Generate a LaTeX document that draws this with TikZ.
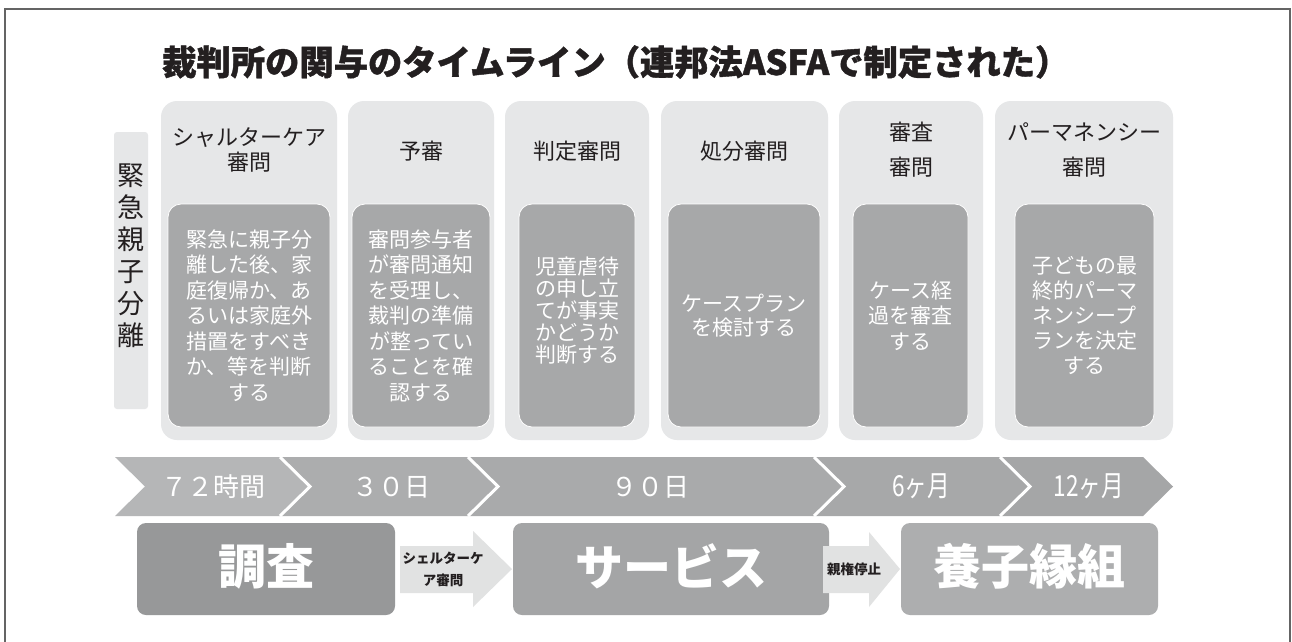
\documentclass[tikz,border=0pt]{standalone}
\usepackage{fontspec}
\setmainfont{Noto Sans CJK JP}
\usepackage{graphicx}
\usetikzlibrary{calc}
\definecolor{lightbox}{RGB}{230,231,232}
\definecolor{innerbox}{RGB}{167,168,169}
\definecolor{txtdark}{RGB}{35,31,32}
\definecolor{chevA}{RGB}{181,182,183}
\definecolor{chevB}{RGB}{172,173,174}
\definecolor{chevC}{RGB}{169,170,171}
\definecolor{chevD}{RGB}{167,168,169}
\definecolor{chevE}{RGB}{165,166,167}
\definecolor{invcol}{RGB}{151,152,153}
\definecolor{svccol}{RGB}{164,165,166}
\definecolor{adpcol}{RGB}{173,174,175}
\definecolor{arrowfill}{RGB}{225,226,226}
\definecolor{framecol}{RGB}{100,100,100}
\begin{document}
\begin{tikzpicture}[x=1pt,y=-1pt,
  outerbox/.style={fill=lightbox, rounded corners=16pt, inner sep=0pt, outer sep=0pt, minimum height=339pt},
  innerb/.style={fill=innerbox, draw=white, line width=0.8pt, rounded corners=13pt, inner sep=0pt, outer sep=0pt, minimum height=223pt},
  hdr/.style={text=txtdark, font=\fontsize{22}{25}\selectfont, align=center, inner sep=0pt},
  hdrwide/.style={text=txtdark, font=\fontsize{22}{35}\selectfont, align=center, inner sep=0pt},
  bodytxt/.style={text=white, font=\fontsize{21}{25.5}\selectfont, align=center, inner sep=0pt},
  chevtxt/.style={text=white, font=\fontsize{26}{30}\selectfont, inner sep=0pt},
  chevnarrow/.style={text=white, font=\fontsize{29}{30}\selectfont, inner sep=0pt},
  bigbox/.style={rounded corners=9pt, minimum height=92pt, inner sep=0pt, outer sep=0pt},
  bigtxt/.style={text=white, font=\bfseries\fontsize{48}{50}\selectfont, inner sep=0pt},
  blockarrow/.style={fill=arrowfill},
  arrtxt/.style={text=txtdark, font=\bfseries\fontsize{13.5}{22}\selectfont, align=center, inner sep=0pt}
]
\useasboundingbox (0,0) rectangle (1292,641);
\fill[white] (0,0) rectangle (1292,641);
\draw[framecol, line width=1.5pt] (5,645) -- (5,9) -- (1290,9) -- (1290,645);

% title
\node[anchor=west, text=txtdark, font=\bfseries\fontsize{34.3}{36}\selectfont\addfontfeature{FakeBold=1.2}, inner sep=0pt] (title) at (162,62) {裁判所の関与のタイムライン（連邦法ASFAで制定された）};

% vertical label
\node[fill=lightbox, rounded corners=3pt, minimum width=34pt, minimum height=277pt, inner sep=0pt] (vbox) at (131,270.5) {};
\node[text=txtdark, font=\fontsize{27}{32}\selectfont, align=center, inner sep=0pt] (vlabel) at (131,256) {緊\\急\\親\\子\\分\\離};

% top outer boxes
\node[outerbox, minimum width=176pt] (o1) at (249,270.5) {};
\node[outerbox, minimum width=146pt] (o2) at (421,270.5) {};
\node[outerbox, minimum width=144pt] (o3) at (577,270.5) {};
\node[outerbox, minimum width=167pt] (o4) at (744.5,270.5) {};
\node[outerbox, minimum width=144pt] (o5) at (911,270.5) {};
\node[outerbox, minimum width=178pt] (o6) at (1084,270.5) {};

% headers
\node[hdr] (h1) at (249,150) {シャルターケア\\審問};
\node[hdr] (h2) at (421,151) {予審};
\node[hdr] (h3) at (577,151) {判定審問};
\node[hdr] (h4) at (744,151) {処分審問};
\node[hdrwide] (h5) at (911,150) {審査\\審問};
\node[hdrwide] (h6) at (1084,150) {パーマネンシー\\審問};

% inner boxes
\node[innerb, minimum width=162pt] (i1) at (249,315.5) {};
\node[innerb, minimum width=138pt] (i2) at (421,315.5) {};
\node[innerb, minimum width=116pt] (i3) at (577,315.5) {};
\node[innerb, minimum width=152pt] (i4) at (744,315.5) {};
\node[innerb, minimum width=115pt] (i5) at (910.5,315.5) {};
\node[innerb, minimum width=139pt] (i6) at (1084.5,315.5) {};

\node[bodytxt] (b1) at (i1) {緊急に親子分\\離した後、家\\庭復帰か、あ\\るいは家庭外\\措置をすべき\\か、等を判断\\する};
\node[bodytxt] (b2) at (i2) {審問参与者\\が審問通知\\を受理し、\\裁判の準備\\が整ってい\\ることを確\\認する};
\node[bodytxt, font=\fontsize{21}{22}\selectfont] (b3) at ($(i3)+(0,-5)$) {児童虐待\\の申し立\\てが事実\\かどうか\\判断する};
\node[bodytxt, font=\fontsize{21}{24}\selectfont] (b4) at (i4) {ケースプラン\\を検討する};
\node[bodytxt] (b5) at (i5) {ケース経\\過を審査\\する};
\node[bodytxt, font=\fontsize{21}{25}\selectfont] (b6) at (i6) {子どもの最\\終的パーマ\\ネンシープ\\ランを決定\\する};

% timeline chevrons
\fill[chevA] (115,457) -- (280,457) -- (310,486.5) -- (280,516) -- (115,516) -- (145,486.5) -- cycle;
\fill[chevB] (280,457) -- (468,457) -- (498,486.5) -- (468,516) -- (280,516) -- (310,486.5) -- cycle;
\fill[chevC] (468,457) -- (814,457) -- (844,486.5) -- (814,516) -- (468,516) -- (498,486.5) -- cycle;
\fill[chevD] (814,457) -- (1000,457) -- (1030,486.5) -- (1000,516) -- (814,516) -- (844,486.5) -- cycle;
\fill[chevE] (1000,457) -- (1143,457) -- (1173,486.5) -- (1143,516) -- (1000,516) -- (1030,486.5) -- cycle;
\draw[white, line width=3pt, line join=miter] (280,457) -- (310,486.5) -- (280,516);
\draw[white, line width=3pt, line join=miter] (468,457) -- (498,486.5) -- (468,516);
\draw[white, line width=3pt, line join=miter] (814,457) -- (844,486.5) -- (814,516);
\draw[white, line width=3pt, line join=miter] (1000,457) -- (1030,486.5) -- (1000,516);

\node[chevtxt] (c1) at (213,487) {７２時間};
\node[chevtxt] (c2) at (391,487) {３０日};
\node[chevtxt] (c3) at (650,487) {９０日};
\node[chevnarrow] (c4) at (921,486) {\scalebox{0.78}[1]{6ヶ月}};
\node[chevnarrow] (c5) at (1089,486) {\scalebox{0.78}[1]{12ヶ月}};

% bottom boxes
\node[bigbox, fill=invcol, minimum width=258pt] (inv) at (266,569) {};
\node[bigbox, fill=svccol, minimum width=316pt] (svc) at (671,569) {};
\node[bigbox, fill=adpcol, minimum width=257pt] (adp) at (1029.5,569) {};
\node[bigtxt] (invt) at (266,566) {調査};
\node[bigtxt] (svct) at (671,566) {サービス};
\node[bigtxt] (adpt) at (1029.5,566) {養子縁組};

% block arrows
\fill[blockarrow] ($(inv.east)+(5,-23)$) -- ++(73,0) -- ++(0,-15) -- ($(svc.west)+(-1,0)$)
  -- ($(inv.east)+(78,38)$) -- ++(0,-14) -- ($(inv.east)+(5,24)$) -- cycle;
\node[arrtxt] (a1) at (443,569) {シェルターケ\\ア審問};

\fill[blockarrow] ($(svc.east)+(-6,-23)$) -- ++(46,0) -- ++(0,-14) -- ($(adp.west)+(-1,0)$)
  -- ($(svc.east)+(40,38)$) -- ++(0,-14) -- ($(svc.east)+(-6,24)$) -- cycle;
\node[arrtxt] (a2) at (854,569) {親権停止};
\end{tikzpicture}
\end{document}
